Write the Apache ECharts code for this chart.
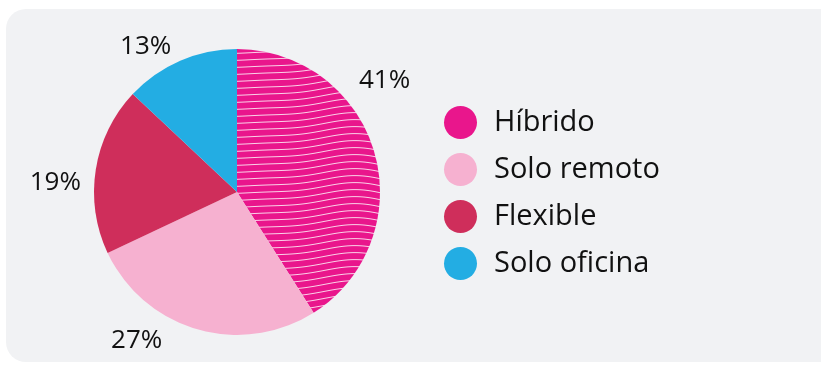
<!DOCTYPE html>
<html>
<head>
<meta charset="utf-8">
<script src="https://cdn.jsdelivr.net/npm/echarts@6/dist/echarts.min.js"></script>
<style>
html, body { margin: 0; padding: 0; background: #fff; }
#chart { width: 821px; height: 365px; }
</style>
</head>
<body>
<div id="chart"></div>
<script>
const categories = ['Híbrido', 'Solo remoto', 'Flexible', 'Solo oficina']
const values = [41, 27, 19, 13]
const colors = ['#E9168C', '#F6B1D0', '#CF2E5B', '#23ADE3']

// wavy white lines used as texture for the first slice
function wavePattern(base) {
    const w = 200, h = 140, gap = 7
    const c = document.createElement('canvas')
    c.width = w
    c.height = h
    const ctx = c.getContext('2d')
    ctx.fillStyle = base
    ctx.fillRect(0, 0, w, h)
    ctx.strokeStyle = 'rgba(255,255,255,0.8)'
    ctx.lineWidth = 1
    for (let y0 = -gap * 3; y0< h + gap * 3; y0 += gap) {
        ctx.beginPath()
        for (let x = 0; x <= w; x += 2) {
            const y = y0 + 5 * Math.sin(2 * Math.PI * x / w) + 1.5 * Math.sin(4 * Math.PI * x / w + 1)
            if (x === 0) ctx.moveTo(x, y)
            else ctx.lineTo(x, y)
        }
        ctx.stroke()
    }
    return c
}

// label nudges to sit where the reference puts them
const labelShift = [[-30, -69], [-27, 2], [0, 15], [0, -5]]

const chart = echarts.init(document.getElementById('chart'))
chart.setOption({
    animation: false,
    graphic: [{
        type: 'rect',
        z: -10,
        shape: { x: 6, y: 9, width: 840, height: 353, r: 20 },
        style: { fill: '#F1F2F4' }
    }],
    legend: {
        orient: 'vertical',
        left: 439,
        top: 101,
        icon: 'circle',
        itemWidth: 33,
        itemHeight: 33,
        itemGap: 14,
        data: categories.map((name, i) => ({ name: name, itemStyle: { color: colors[i] } })),
        textStyle: {
            fontFamily: 'Open Sans',
            fontSize: 29,
            color: '#111',
            padding: [0, 0, 0, 12]
        }
    },
    series: [{
        type: 'pie',
        center: [237, 192],
        radius: 143,
        startAngle: 90,
        data: categories.map((name, i) => ({
            name: name,
            value: values[i],
            itemStyle: {
                color: i === 0 ? { image: wavePattern(colors[0]), repeat: 'repeat' } : colors[i]
            }
        })),
        label: {
            position: 'outside',
            formatter: '{c}%',
            fontFamily: 'Open Sans',
            fontSize: 26,
            color: '#111'
        },
        labelLine: { show: false, length: 10, length2: 0 },
        labelLayout: function (params) {
            const s = labelShift[params.dataIndex]
            return { dx: s[0], dy: s[1] }
        }
    }]
})
</script>
</body>
</html>
